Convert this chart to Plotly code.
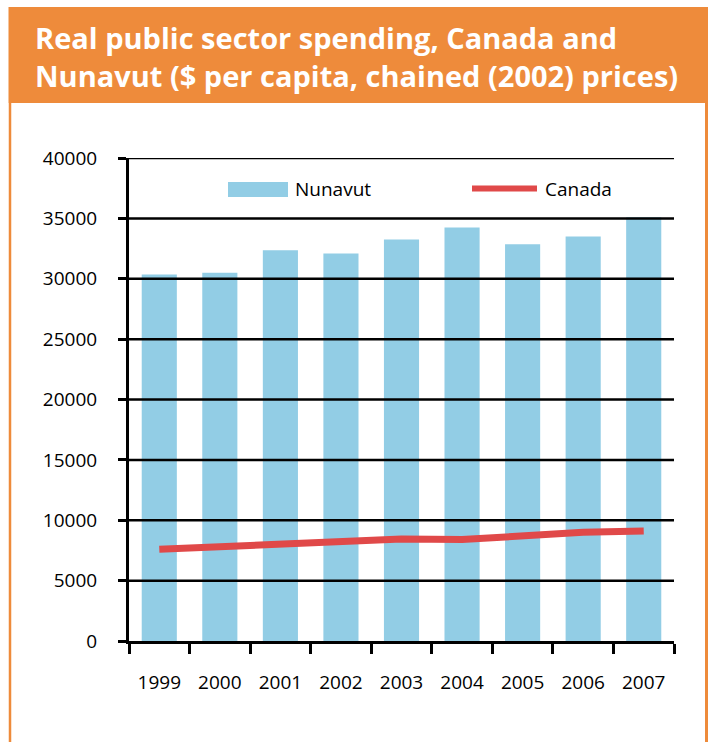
import plotly.graph_objects as go

# Series values
years = ["1999", "2000", "2001", "2002", "2003", "2004", "2005", "2006", "2007"]
nunavut = [30350, 30500, 32350, 32100, 33250, 34250, 32850, 33500, 35100]
canada = [7600, 7800, 8000, 8250, 8450, 8400, 8700, 9000, 9100]
y_ticks = [0, 5000, 10000, 15000, 20000, 25000, 30000, 35000, 40000]
y_tick_text = ["0", "5000", "10000", "15000", "20000", "25000", "30000", "35000", "40000"]

title_lines = ["Real public sector spending, Canada and",
               "Nunavut ($ per capita, chained (2002) prices)"]

BLUE = "#92CDE5"
RED = "#E04949"
ORANGE = "#EE8B3B"

W, H = 709, 742
L, R, T, B = 129, 35, 158, 101
PW, PH = W - L - R, H - T - B


def px(x):
    return (x - L) / PW


def py(y):
    return (H - B - y) / PH


fig = go.Figure()
fig.add_trace(go.Bar(x=years, y=nunavut, name="Nunavut", marker_color=BLUE,
                     marker_line_width=0))
fig.add_trace(go.Scatter(x=years, y=canada, name="Canada", mode="lines",
                         line=dict(color=RED, width=7)))

shapes = []
# gridlines on top of the bars
for v in y_ticks[1:]:
    shapes.append(dict(type="line", xref="paper", yref="y", x0=0, x1=1, y0=v, y1=v,
                       line=dict(color="black", width=2.5), layer="above"))
# orange frame and header band
shapes.append(dict(type="rect", xref="paper", yref="paper", x0=px(8.5), x1=px(708),
                   y0=py(103), y1=py(7), fillcolor=ORANGE, line_width=0, layer="below"))
shapes.append(dict(type="line", xref="paper", yref="paper", x0=px(10), x1=px(10),
                   y0=py(103), y1=py(760), line=dict(color=ORANGE, width=2.5)))
shapes.append(dict(type="line", xref="paper", yref="paper", x0=px(706.5), x1=px(706.5),
                   y0=py(103), y1=py(760), line=dict(color=ORANGE, width=3)))
# legend keys
shapes.append(dict(type="rect", xref="paper", yref="paper", x0=px(228), x1=px(288),
                   y0=py(197), y1=py(182), fillcolor=BLUE, line_width=0))
shapes.append(dict(type="line", xref="paper", yref="paper", x0=px(472), x1=px(537),
                   y0=py(188.5), y1=py(188.5), line=dict(color=RED, width=6)))

label_font = dict(family="Open Sans, Roboto, sans-serif", size=19, color="black")
annotations = [
    dict(text="Nunavut", xref="paper", yref="paper", x=px(293), y=py(189),
         xanchor="left", yanchor="middle", showarrow=False, font=label_font),
    dict(text="Canada", xref="paper", yref="paper", x=px(543), y=py(189),
         xanchor="left", yanchor="middle", showarrow=False, font=label_font),
    dict(text="<br>".join(title_lines), xref="paper", yref="paper", x=px(33), y=py(16),
         xanchor="left", yanchor="top", align="left", showarrow=False,
         font=dict(family="Open Sans, sans-serif", size=29, color="white", weight="bold")),
]

fig.update_layout(
    width=W, height=H,
    margin=dict(l=L, r=R, t=T, b=B, pad=0),
    paper_bgcolor="white", plot_bgcolor="white",
    showlegend=False, bargap=0.42,
    shapes=shapes, annotations=annotations,
    xaxis=dict(type="category", tickson="boundaries", ticks="outside", ticklen=10,
               tickwidth=2.5, tickcolor="black", showline=True, linewidth=3,
               linecolor="black", showgrid=False, ticklabelstandoff=22,
               tickfont=label_font, layer="above traces"),
    yaxis=dict(range=[0, 40000], tickvals=y_ticks, ticktext=y_tick_text,
               ticks="outside", ticklen=8,
               tickwidth=2.5, tickcolor="black", showline=True, linewidth=3,
               linecolor="black", showgrid=False, zeroline=False,
               ticklabelstandoff=17, tickfont=label_font, layer="above traces"),
)

fig.write_html("out.html")
